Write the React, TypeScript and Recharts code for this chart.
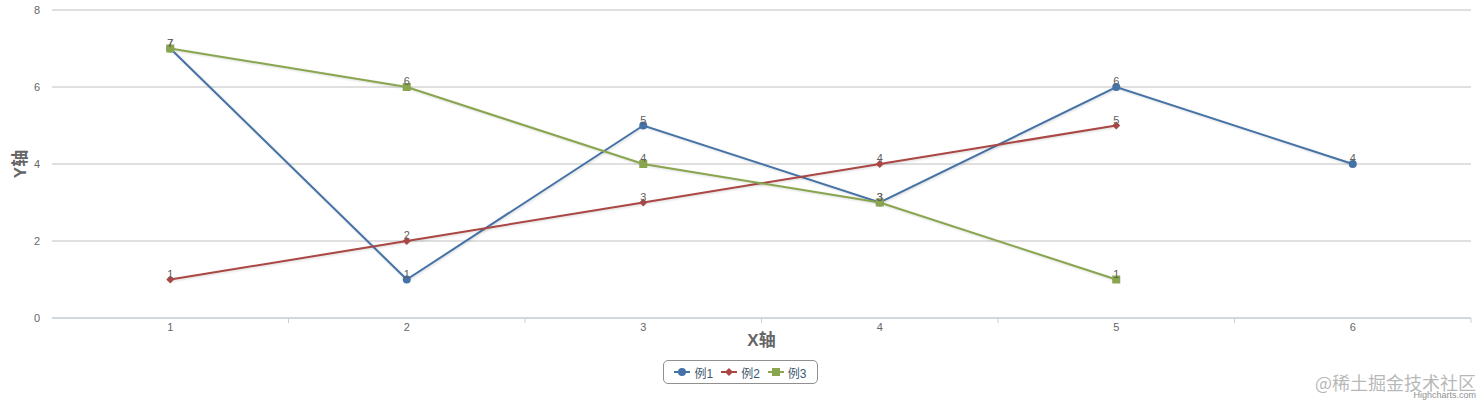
import React from 'react';
import {
    ComposedChart,
    Line,
    XAxis,
    YAxis,
    CartesianGrid,
    LabelList,
} from 'recharts';

const categories = ['1', '2', '3', '4', '5', '6'];
const series1 = [7, 1, 5, 3, 6, 4];
const series2 = [1, 2, 3, 4, 5, null];
const series3 = [7, 6, 4, 3, 1, null];
const yTicks = [0, 2, 4, 6, 8];

const seriesList = [
    { key: 's1', name: '例1', color: '#4572A7', symbol: 'circle' },
    { key: 's2', name: '例2', color: '#AA4643', symbol: 'diamond' },
    { key: 's3', name: '例3', color: '#89A54E', symbol: 'square' },
];

const data = categories.map((c, i) => ({
    name: c,
    s1: series1[i],
    s2: series2[i],
    s3: series3[i],
}));

const FONT = '"Liberation Sans", Arial, "Noto Sans CJK SC", sans-serif';

const Marker = ({ symbol, color, cx, cy }: { symbol: string; color: string; cx: number; cy: number }) => {
    if (symbol === 'circle') return <circle cx={cx} cy={cy} r={4} fill={color} />;
    if (symbol === 'diamond')
        return <path d={`M${cx},${cy - 4}L${cx + 4},${cy}L${cx},${cy + 4}L${cx - 4},${cy}Z`} fill={color} />;
    return <rect x={cx - 4} y={cy - 4} width={8} height={8} fill={color} />;
};

const makeDot = (symbol: string, color: string) => (props: any) => {
    const { cx, cy, index } = props;
    if (cx == null || cy == null || props.value == null) return <g key={index} />;
    return (
        <g key={index}>
            <Marker symbol={symbol} color={color} cx={cx} cy={cy} />
        </g>
    );
};

// category labels in the band centre, tick marks on the band edges
const XTick = (props: any) => {
    const { x, y, payload } = props;
    const half = payload.offset || 118;
    return (
        <g>
            <line x1={x + half} x2={x + half} y1={y - 8} y2={y - 3} stroke="#C0D0E0" />
            <text x={x} y={y + 5} textAnchor="middle" fill="#666" fontSize={11} fontFamily={FONT}>
                {payload.value}
            </text>
        </g>
    );
};

const XTitle = (props: any) => {
    const { viewBox } = props;
    return (
        <text
            x={viewBox.x + viewBox.width / 2}
            y={viewBox.y + 28}
            textAnchor="middle"
            fill="#666"
            fontSize={17}
            fontWeight="bold"
            fontFamily={FONT}
        >
            X轴
        </text>
    );
};

const YTitle = (props: any) => {
    const { viewBox } = props;
    const cx = viewBox.x + 20;
    const cy = viewBox.y + viewBox.height / 2;
    return (
        <text
            x={cx}
            y={cy}
            transform={`rotate(-90 ${cx} ${cy})`}
            textAnchor="middle"
            dominantBaseline="central"
            fill="#666"
            fontSize={17}
            fontWeight="bold"
            fontFamily={FONT}
        >
            Y轴
        </text>
    );
};

const App = () => {
    return (
        <div style={{ position: 'absolute', left: 0, top: 0, width: 1482, height: 400, fontFamily: FONT, background: '#fff' }}>
            <ComposedChart
                width={1482}
                height={400}
                data={data}
                margin={{ top: 10, right: 11, left: 0, bottom: 0 }}
            >
                <CartesianGrid vertical={false} stroke="#C0C0C0" />
                <XAxis
                    dataKey="name"
                    scale="band"
                    height={82}
                    axisLine={{ stroke: '#C0D0E0' }}
                    tickLine={false}
                    tick={<XTick />}
                    interval={0}
                    label={<XTitle />}
                />
                <YAxis
                    width={52}
                    domain={[0, 8]}
                    ticks={yTicks}
                    axisLine={false}
                    tickLine={false}
                    tick={{ fill: '#666', fontSize: 11, fontFamily: FONT }}
                    tickMargin={6}
                    label={<YTitle />}
                />
                {seriesList.map((s) => (
                    <Line
                        key={s.key}
                        dataKey={s.key}
                        name={s.name}
                        stroke={s.color}
                        strokeWidth={2}
                        dot={makeDot(s.symbol, s.color)}
                        activeDot={false}
                        isAnimationActive={false}
                        style={{ filter: 'drop-shadow(1px 1px 1px rgba(0,0,0,0.15))' }}
                    >
                        <LabelList
                            dataKey={s.key}
                            position="top"
                            offset={2}
                            fill="#606060"
                            fontSize={11}
                            fontFamily={FONT}
                        />
                    </Line>
                ))}
            </ComposedChart>
            <div
                style={{
                    position: 'absolute',
                    left: 663,
                    top: 360,
                    width: 153,
                    height: 22,
                    border: '1px solid #909090',
                    borderRadius: 5,
                    display: 'flex',
                    alignItems: 'center',
                    justifyContent: 'center',
                    gap: 8,
                    fontSize: 12,
                    color: '#3E576F',
                }}
            >
                {seriesList.map((s) => (
                    <div key={s.key} style={{ display: 'flex', alignItems: 'center', gap: 4 }}>
                        <svg width={16} height={12}>
                            <line x1={0} x2={16} y1={6} y2={6} stroke={s.color} strokeWidth={2} />
                            <Marker symbol={s.symbol} color={s.color} cx={8} cy={6} />
                        </svg>
                        <span>{s.name}</span>
                    </div>
                ))}
            </div>
            <div
                style={{
                    position: 'absolute',
                    right: 6,
                    top: 373,
                    fontSize: 18,
                    lineHeight: '18px',
                    color: 'rgba(160,160,160,0.75)',
                    fontFamily: '"Noto Sans CJK SC", sans-serif',
                }}
            >
                @稀土掘金技术社区
            </div>
            <div
                style={{
                    position: 'absolute',
                    right: 6,
                    top: 391,
                    fontSize: 9,
                    lineHeight: '9px',
                    color: '#909090',
                }}
            >
                Highcharts.com
            </div>
        </div>
    );
};

export default App;
